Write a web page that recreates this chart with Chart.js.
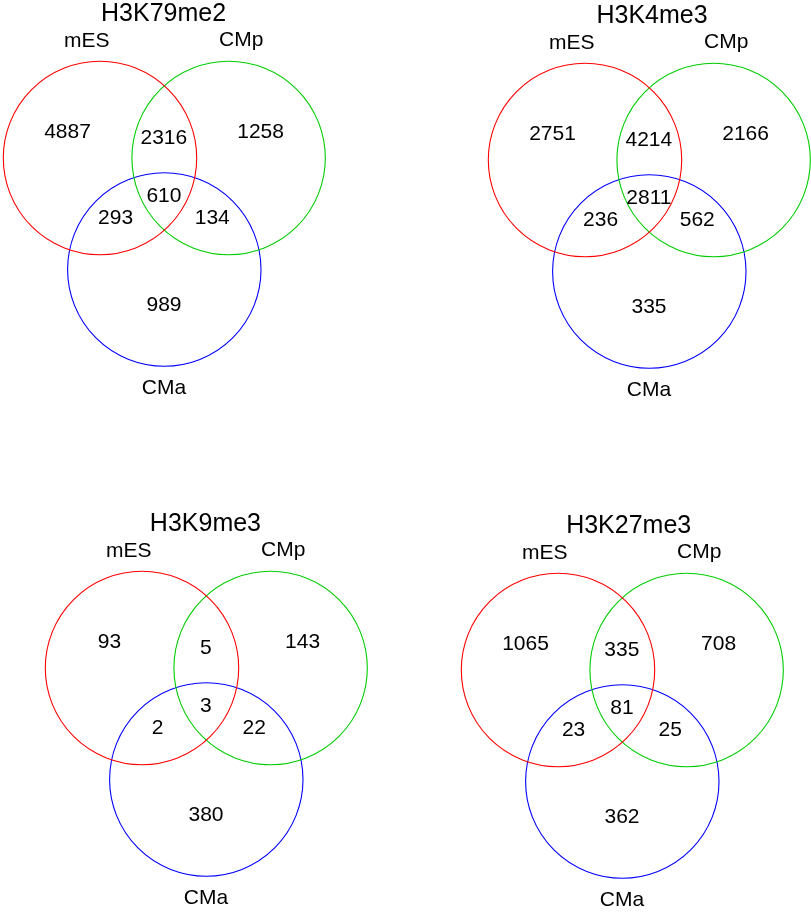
<!DOCTYPE html>
<html>
<head>
<meta charset="utf-8">
<title>Histone mark overlaps</title>
<script src="https://cdn.jsdelivr.net/npm/chart.js@4.4.1/dist/chart.umd.min.js"></script>
<style>
  html, body { margin: 0; padding: 0; background: #fff; }
  body { width: 811px; height: 913px; position: relative; overflow: hidden; }
  .panel { position: absolute; width: 330px; height: 420px; }
</style>
</head>
<body>
<div class="panel" id="p0"><canvas id="c0" width="330" height="420"></canvas></div>
<div class="panel" id="p1"><canvas id="c1" width="330" height="420"></canvas></div>
<div class="panel" id="p2"><canvas id="c2" width="330" height="420"></canvas></div>
<div class="panel" id="p3"><canvas id="c3" width="330" height="420"></canvas></div>
<script>
// ---- data ----
const marks = ["H3K79me2", "H3K4me3", "H3K9me3", "H3K27me3"];
const setNames = ["mES", "CMp", "CMa"];
const setColors = ["#ff0000", "#00cd00", "#0000ff"];
// region order: mES only, mES&CMp, CMp only, all three, mES&CMa, CMp&CMa, CMa only
const regionKeys = ["A", "AB", "B", "ABC", "AC", "BC", "C"];
const countsH3K79me2 = [4887, 2316, 1258, 610, 293, 134, 989];
const countsH3K4me3 = [2751, 4214, 2166, 2811, 236, 562, 335];
const countsH3K9me3 = [93, 5, 143, 3, 2, 22, 380];
const countsH3K27me3 = [1065, 335, 708, 81, 23, 25, 362];
const allCounts = [countsH3K79me2, countsH3K4me3, countsH3K9me3, countsH3K27me3];

// ---- layout (circle units, radius = 1) ----
const circleCenters = [[0, 0], [1.33, 0], [0.665, -1.153]];
const regionAnchors = {
    A: [-0.336, 0.269], AB: [0.660, 0.203], B: [1.661, 0.269],
    ABC: [0.661, -0.396], AC: [0.161, -0.625], BC: [1.161, -0.625], C: [0.662, -1.519]
};
const nameAnchors = [[-0.138, 1.206], [1.461, 1.222], [0.662, -2.382]];
const titleX = [0.657, 0.693, 0.656, 0.731];
const titleY = 1.486;

const PX = 96.7;            // pixels per unit
const ORIGIN = [100, 165];  // red centre inside each canvas
const panelPos = [[-0.3, -7.5], [484.7, -5.3], [42.3, 502.7], [458.3, 505]];

const venn = {
    id: "vennText",
    afterDatasetsDraw(chart, args, opts) {
        const ctx = chart.ctx, xs = chart.scales.x, ys = chart.scales.y;
        ctx.save();
        ctx.fillStyle = "#000";
        ctx.textAlign = "center";
        ctx.textBaseline = "middle";
        ctx.font = '25px "Liberation Sans", Arial, sans-serif';
        ctx.fillText(opts.title, xs.getPixelForValue(opts.titleX), ys.getPixelForValue(titleY));
        ctx.font = '21px "Liberation Sans", Arial, sans-serif';
        setNames.forEach((n, i) => {
            ctx.fillText(n, xs.getPixelForValue(nameAnchors[i][0]), ys.getPixelForValue(nameAnchors[i][1]));
        });
        opts.counts.forEach((v, i) => {
            const a = regionAnchors[regionKeys[i]];
            ctx.fillText(String(v), xs.getPixelForValue(a[0]), ys.getPixelForValue(a[1]));
        });
        ctx.restore();
    }
};

marks.forEach((mark, k) => {
    const panel = document.getElementById("p" + k);
    panel.style.left = panelPos[k][0] + "px";
    panel.style.top = panelPos[k][1] + "px";
    const canvas = document.getElementById("c" + k);
    new Chart(canvas.getContext("2d"), {
        type: "scatter",
        data: {
            datasets: setNames.map((name, i) => ({
                label: name,
                data: [{ x: circleCenters[i][0], y: circleCenters[i][1] }],
                pointStyle: "circle",
                pointRadius: (c) => c.chart.scales.x.getPixelForValue(1) - c.chart.scales.x.getPixelForValue(0),
                pointHoverRadius: (c) => c.chart.scales.x.getPixelForValue(1) - c.chart.scales.x.getPixelForValue(0),
                backgroundColor: "rgba(0,0,0,0)",
                borderColor: setColors[i],
                borderWidth: 1.1,
                clip: false
            }))
        },
        options: {
            responsive: false,
            animation: false,
            devicePixelRatio: 1,
            layout: { padding: 0 },
            events: [],
            scales: {
                x: { type: "linear", display: false, min: -ORIGIN[0] / PX, max: (330 - ORIGIN[0]) / PX },
                y: { type: "linear", display: false, max: ORIGIN[1] / PX, min: (ORIGIN[1] - 420) / PX }
            },
            plugins: {
                legend: { display: false },
                tooltip: { enabled: false },
                vennText: { title: mark, titleX: titleX[k], counts: allCounts[k] }
            }
        },
        plugins: [venn]
    });
});
</script>
</body>
</html>
